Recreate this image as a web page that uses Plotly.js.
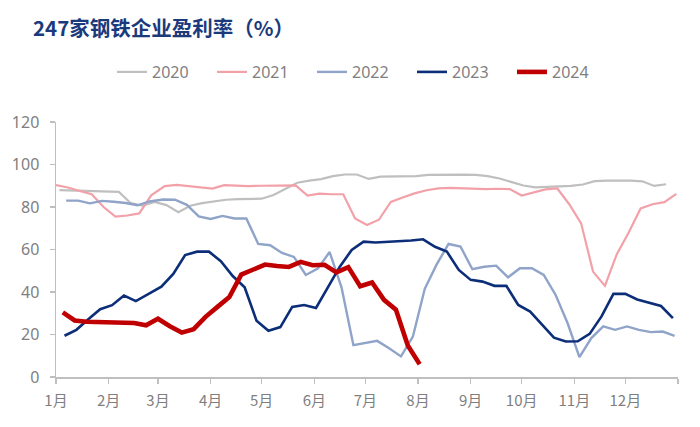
<!DOCTYPE html>
<html>
<head>
<meta charset="utf-8">
<script src="https://cdn.plot.ly/plotly-3.0.1.min.js"></script>
<style>
  html, body { margin: 0; padding: 0; background: #ffffff; }
  #chart { width: 700px; height: 427px; }
</style>
</head>
<body>
<div id="chart"></div>
<script>
// Month tick labels
const monthLabels = ['1月','2月','3月','4月','5月','6月','7月','8月','9月','10月','11月','12月'];

// Series names
const seriesNames = ['2020','2021','2022','2023','2024'];

// First weekly report date (Friday) of each year
const firstDates = {
  '2020': '2020-01-03',
  '2021': '2021-01-01',
  '2022': '2022-01-07',
  '2023': '2023-01-06',
  '2024': '2024-01-05'
};

// Weekly profitability (%)
const v2020 = [87.9, 87.7, 87.5, 87.4, 87.2,
  87.1, 81.8, 80.6, 82.4,
  80.9, 77.5, 80.6, 81.8,
  82.6, 83.4, 83.7, 83.8,
  83.9, 85.6, 88.7, 91.4, 92.4,
  93.1, 94.5, 95.3, 95.3,
  93.2, 94.3, 94.3, 94.4, 94.5,
  95.1, 95.2, 95.2, 95.2,
  95.1, 94.5, 93.4, 91.8,
  90.1, 89.2, 89.4, 89.8, 89.9,
  90.6, 92.2, 92.4, 92.5,
  92.4, 92.1, 89.9, 90.7];

const v2021 = [90.3, 89.2, 87.5, 86.0, 80.0,
  75.5, 76.0, 77.0, 85.5,
  89.8, 90.4, 89.8, 89.2,
  88.7, 90.3, 89.9, 89.8, 90.0,
  90.0, 90.0, 90.2, 85.4,
  86.3, 86.0, 86.0, 74.6,
  71.5, 74.0, 82.4, 84.5, 86.4,
  87.9, 88.8, 89.0, 88.7,
  88.4, 88.4, 88.6, 88.4,
  85.4, 86.7, 88.3, 88.7, 81.3,
  72.3, 49.6, 42.9, 57.8,
  68.0, 79.3, 81.3, 82.3, 86.2];

const v2022 = [83.0, 83.0, 81.7, 82.9,
  82.5, 81.9, 80.8, 82.6,
  83.5, 83.4, 81.0, 75.6,
  74.4, 75.8, 74.6, 74.6, 62.6,
  62.0, 58.4, 56.5, 48.0,
  51.0, 58.8, 42.2, 15.0,
  16.0, 17.0, 13.5, 9.7, 19.0,
  41.5, 53.0, 62.6, 61.4,
  50.7, 51.9, 52.4, 46.9, 51.2,
  51.2, 48.0, 38.6, 25.4,
  9.4, 18.3, 23.8, 22.2,
  23.8, 22.2, 21.1, 21.4, 19.4];

const v2023 = [19.4, 22.2, 27.2, 31.9,
  33.8, 38.3, 35.7, 39.0,
  42.5, 48.5, 57.4, 59.0, 59.0,
  54.5, 47.5, 42.2, 26.5,
  21.8, 23.5, 33.0, 33.9,
  32.5, 42.5, 51.9, 59.8, 63.7,
  63.3, 63.5, 63.7, 64.2,
  64.8, 61.3, 59.0, 50.4,
  45.7, 44.9, 42.9, 42.9, 33.9,
  30.8, 24.6, 18.5, 16.7,
  16.8, 20.3, 28.5, 39.1,
  39.1, 36.5, 35.0, 33.4, 27.7];

const v2024 = [30.4, 26.6, 26.0, 25.9,
  25.7, 25.6, 25.4, 24.3,
  27.4, 23.9, 20.9, 22.5, 28.3,
  33.0, 37.6, 48.2, 50.6,
  52.9, 52.2, 51.8, 54.2, 52.6,
  52.8, 49.2, 51.7, 42.7,
  44.5, 36.3, 31.7, 14.8,
  6.0];

const seriesValues = { '2020': v2020, '2021': v2021, '2022': v2022, '2023': v2023, '2024': v2024 };

// Styles
const colors = { '2020': '#bfbfbf', '2021': '#f2a1a9', '2022': '#8fa4c8', '2023': '#0c2e78', '2024': '#c00000' };
const widths = { '2020': 2.2, '2021': 2.2, '2022': 2.4, '2023': 2.6, '2024': 4.6 };

function pad(n) { return (n < 10 ? '0' : '') + n; }

// Weekly dates of each year, placed on a common (leap-year) calendar by month/day
function weeklyDates(startStr, count) {
  const p = startStr.split('-').map(Number);
  const out = [];
  for (let i = 0; i < count; i++) {
    const d = new Date(Date.UTC(p[0], p[1] - 1, p[2] + 7 * i));
    out.push('2024-' + pad(d.getUTCMonth() + 1) + '-' + pad(d.getUTCDate()));
  }
  return out;
}

const traces = seriesNames.map(name => ({
  type: 'scatter',
  mode: 'lines',
  name: name,
  x: weeklyDates(firstDates[name], seriesValues[name].length),
  y: seriesValues[name],
  line: { color: colors[name], width: widths[name], shape: 'linear' },
  hoverinfo: 'x+y+name'
}));

const tickVals = [];
for (let m = 1; m <= 12; m++) tickVals.push('2024-' + pad(m) + '-01');
tickVals.push('2025-01-01');
const tickText = monthLabels.concat(['']);

const layout = {
  width: 700,
  height: 427,
  paper_bgcolor: '#ffffff',
  plot_bgcolor: '#ffffff',
  margin: { l: 56, r: 22, t: 122, b: 50 },
  title: {
    text: '247家钢铁企业盈利率（%）',
    x: 33 / 700, xanchor: 'left', xref: 'container',
    y: 1 - 29 / 427, yanchor: 'middle', yref: 'container',
    font: { family: '"Noto Sans CJK SC", "Noto Sans", sans-serif', size: 20.5, color: '#1b3a7c', weight: 'bold' }
  },
  showlegend: true,
  legend: {
    orientation: 'h',
    x: 0.5 - 5 / 622, xanchor: 'center',
    y: 1 + 50 / 255, yanchor: 'middle',
    font: { family: '"Noto Sans", "Noto Sans CJK SC", sans-serif', size: 16, color: '#7f7f7f' },
    bgcolor: 'rgba(0,0,0,0)',
    traceorder: 'normal',
    entrywidth: 55,
    entrywidthmode: 'pixels'
  },
  xaxis: {
    type: 'date',
    range: ['2024-01-01', '2025-01-01'],
    tickmode: 'array',
    tickvals: tickVals,
    ticktext: tickText,
    showgrid: false,
    zeroline: false,
    showline: true,
    linecolor: '#bfbfbf',
    linewidth: 1.5,
    ticks: 'outside',
    ticklen: 5,
    tickcolor: '#bfbfbf',
    tickwidth: 1.5,
    ticklabelstandoff: 4,
    tickfont: { family: '"Noto Sans CJK SC", sans-serif', size: 15, color: '#7f7f7f' },
    fixedrange: true
  },
  yaxis: {
    range: [0, 120],
    tickmode: 'linear',
    tick0: 0,
    dtick: 20,
    showgrid: false,
    zeroline: false,
    showline: true,
    linecolor: '#bfbfbf',
    linewidth: 1.5,
    ticks: 'outside',
    ticklen: 5,
    tickcolor: '#bfbfbf',
    tickwidth: 1.5,
    ticklabelstandoff: 7,
    tickfont: { family: '"Noto Sans", sans-serif', size: 16, color: '#7f7f7f' },
    fixedrange: true
  }
};

Plotly.newPlot('chart', traces, layout, { displayModeBar: false, staticPlot: true });
</script>
</body>
</html>
